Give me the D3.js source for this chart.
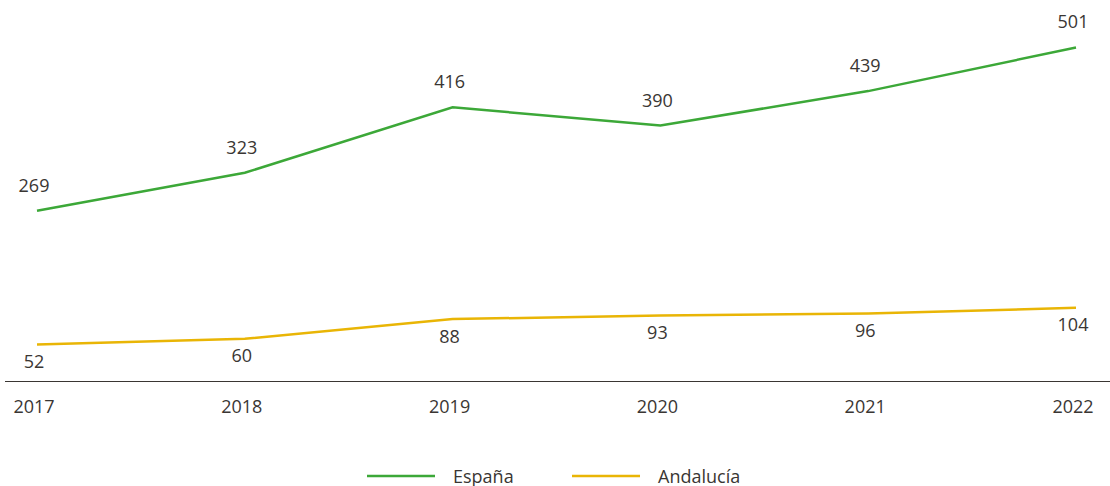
<!DOCTYPE html>
<html>
<head>
<meta charset="utf-8">
<script src="https://cdn.jsdelivr.net/npm/d3@7"></script>
<style>
  body { margin: 0; background: #fff; }
  svg text { font-family: "Open Sans", "Noto Sans", sans-serif; font-size: 18px; fill: #3a3633; }
</style>
</head>
<body>
<div id="chart"></div>
<script>
// data
var years = ["2017", "2018", "2019", "2020", "2021", "2022"];
var espana = [269, 323, 416, 390, 439, 501];
var andalucia = [52, 60, 88, 93, 96, 104];
var seriesNames = ["España", "Andalucía"];
var seriesColors = ["#3ca838", "#e9b505"];

var width = 1110, height = 486;

var svg = d3.select("#chart").append("svg")
    .attr("width", width)
    .attr("height", height);

var x = d3.scalePoint()
    .domain(years)
    .range([37, 1076]);

// each series sits on its own axis
var yEsp = d3.scaleLinear().domain([27, 577]).range([381, -6]);
var yAnd = d3.scaleLinear().domain([0, 550]).range([381, -6]);

// baseline
svg.append("line")
    .attr("x1", 5).attr("x2", width)
    .attr("y1", 381.5).attr("y2", 381.5)
    .attr("stroke", "#3a3633")
    .attr("stroke-width", 1);

// year labels
svg.selectAll(".year")
    .data(years)
    .enter().append("text")
    .attr("class", "year")
    .attr("x", function(d) { return x(d) - 3; })
    .attr("y", 413)
    .attr("text-anchor", "middle")
    .text(function(d) { return d; });

var series = [
    {name: seriesNames[0], values: espana, y: yEsp, color: seriesColors[0], dy: -19},
    {name: seriesNames[1], values: andalucia, y: yAnd, color: seriesColors[1], dy: 23.5}
];

series.forEach(function(s) {
    var line = d3.line()
        .x(function(d, i) { return x(years[i]); })
        .y(function(d) { return s.y(d); });

    svg.append("path")
        .datum(s.values)
        .attr("d", line)
        .attr("fill", "none")
        .attr("stroke", s.color)
        .attr("stroke-width", 2.5);

    svg.selectAll(null)
        .data(s.values)
        .enter().append("text")
        .attr("x", function(d, i) { return x(years[i]) - 3; })
        .attr("y", function(d) { return s.y(d) + s.dy; })
        .attr("text-anchor", "middle")
        .text(function(d) { return d; });
});

// legend
var legend = svg.append("g").attr("transform", "translate(367,476)");
var items = legend.selectAll("g")
    .data(series)
    .enter().append("g")
    .attr("transform", function(d, i) { return "translate(" + (i * 205) + ",0)"; });

items.append("line")
    .attr("x1", 0).attr("x2", 68)
    .attr("y1", 0).attr("y2", 0)
    .attr("stroke", function(d) { return d.color; })
    .attr("stroke-width", 2.5);

items.append("text")
    .attr("x", 86)
    .attr("y", 6.5)
    .text(function(d) { return d.name; });
</script>
</body>
</html>
